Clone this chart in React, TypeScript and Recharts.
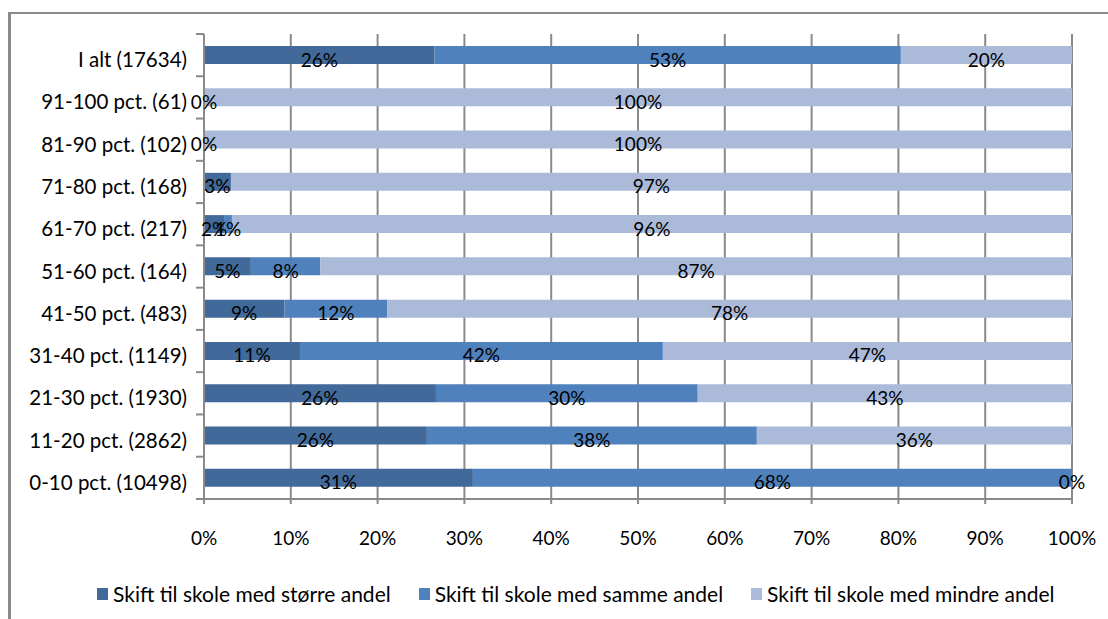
import React from "react";
import { Bar, BarChart, CartesianGrid, LabelList, XAxis, YAxis } from "recharts";

const categories = [
  "I alt (17634)",
  "91-100 pct. (61)",
  "81-90 pct. (102)",
  "71-80 pct. (168)",
  "61-70 pct. (217)",
  "51-60 pct. (164)",
  "41-50 pct. (483)",
  "31-40 pct. (1149)",
  "21-30 pct. (1930)",
  "11-20 pct. (2862)",
  "0-10 pct. (10498)",
];

// shares in percent; null = no value shown
const stoerre: (number | null)[] = [26.4, 0, 0, 3.1, 2.3, 5.4, 9.2, 11.0, 26.4, 25.6, 30.7];
const samme: (number | null)[] = [53.4, null, null, null, 0.9, 8.0, 11.8, 41.6, 29.8, 37.9, 68.4];
const mindre: (number | null)[] = [19.6, 100, 100, 96.9, 96.3, 86.6, 78.4, 46.9, 42.6, 36.2, 0];

const seriesNames = [
  "Skift til skole med større andel",
  "Skift til skole med samme andel",
  "Skift til skole med mindre andel",
];
const colors = ["#41699A", "#4F81BD", "#AABAD8"];
const xTicks = [0, 10, 20, 30, 40, 50, 60, 70, 80, 90, 100];

const FONT = "Lato, 'Liberation Sans', sans-serif";
const FS = 19;
const GRID = "#8a8a8a";

// 100% stacked: normalise each row like Excel does
const data = categories.map((label, i) => {
  const a = stoerre[i] ?? 0;
  const b = samme[i] ?? 0;
  const c = mindre[i] ?? 0;
  const sum = a + b + c;
  return {
    label,
    s0: (a / sum) * 100,
    s1: (b / sum) * 100,
    s2: (c / sum) * 100,
    r0: stoerre[i],
    r1: samme[i],
    r2: mindre[i],
  };
});

const PLOT_TOP = 34;
const PLOT_BOTTOM = 499;
const band = (PLOT_BOTTOM - PLOT_TOP) / categories.length;

const renderLabel = (props: any) => {
  const { x, y, width, height, value } = props;
  if (value == null) return null;
  return (
    <text
      x={Number(x) + Number(width) / 2}
      y={Number(y) + Number(height) / 2 + 4}
      textAnchor="middle"
      dominantBaseline="central"
      fontSize={FS}
      fontFamily={FONT}
      fill="#000"
    >
      {Math.round(Number(value))}%
    </text>
  );
};

const YTick = (props: any) => {
  const { x, y, payload, index } = props;
  return (
    <g>
      <text x={x} y={y + 4} textAnchor="end" dominantBaseline="central" fontSize={20.5} fontFamily={FONT} fill="#000">
        {payload.value}
      </text>
      <line x1={x + 9} x2={x + 17} y1={y - band / 2} y2={y - band / 2} stroke={GRID} strokeWidth={2} />
      {index === categories.length - 1 && (
        <line x1={x + 9} x2={x + 17} y1={y + band / 2} y2={y + band / 2} stroke={GRID} strokeWidth={2} />
      )}
    </g>
  );
};

export default function App() {
  return (
    <div style={{ position: "absolute", left: 0, top: 0, width: 1108, height: 619, background: "#fff", fontFamily: FONT, overflow: "hidden" }}>
      <div
        style={{
          position: "absolute",
          left: 8,
          top: 12,
          width: 1120,
          height: 640,
          borderTop: `2px solid ${GRID}`,
          borderLeft: `3px solid ${GRID}`,
        }}
      />
      <div style={{ position: "absolute", left: 0, top: 0 }}>
        <BarChart
          width={1108}
          height={619}
          data={data}
          layout="vertical"
          margin={{ top: PLOT_TOP, right: 36, bottom: 90, left: 0 }}
          barSize={18}
        >
          <CartesianGrid horizontal={false} stroke={GRID} strokeWidth={2} verticalValues={xTicks} />
          <XAxis
            type="number"
            domain={[0, 100]}
            ticks={xTicks}
            interval={0}
            height={30}
            tickFormatter={(v) => `${v}%`}
            tick={{ fontSize: FS, fontFamily: FONT, fill: "#000" }}
            axisLine={{ stroke: GRID, strokeWidth: 2 }}
            tickLine={{ stroke: GRID, strokeWidth: 2 }}
            tickSize={5}
            tickMargin={28}
          />
          <YAxis
            type="category"
            dataKey="label"
            width={204}
            interval={0}
            tick={<YTick />}
            tickLine={false}
            tickSize={8}
            tickMargin={9}
            axisLine={{ stroke: GRID, strokeWidth: 2 }}
          />
          {[0, 1, 2].map((k) => (
            <Bar
              key={k}
              dataKey={`s${k}`}
              name={seriesNames[k]}
              stackId="a"
              fill={colors[k]}
              minPointSize={0.01}
              isAnimationActive={false}
            >
              <LabelList dataKey={`r${k}`} content={renderLabel} />
            </Bar>
          ))}
        </BarChart>
      </div>
      <div
        style={{
          position: "absolute",
          left: 97,
          top: 581,
          display: "flex",
          alignItems: "center",
          fontSize: 21,
          color: "#000",
          whiteSpace: "nowrap",
        }}
      >
        {seriesNames.map((n, k) => (
          <div key={k} style={{ display: "flex", alignItems: "center", marginRight: 28 }}>
            <span style={{ display: "inline-block", width: 11, height: 12, background: colors[k], marginRight: 5 }} />
            <span>{n}</span>
          </div>
        ))}
      </div>
    </div>
  );
}
